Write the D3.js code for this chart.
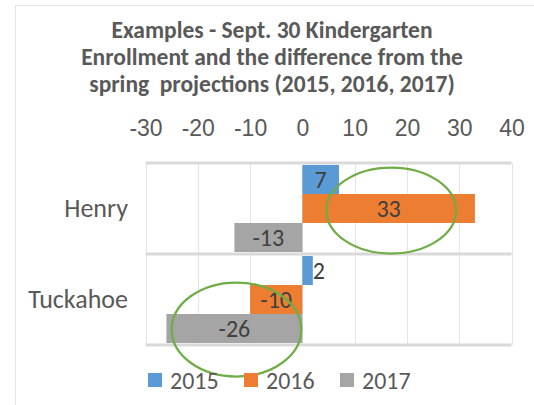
<!DOCTYPE html>
<html>
<head>
<meta charset="utf-8">
<script src="https://cdn.jsdelivr.net/npm/d3@7"></script>
<style>
  body { margin: 0; background: #fff; }
  svg { display: block; font-family: Calibri, Carlito, Lato, "Open Sans", sans-serif; }
</style>
</head>
<body>
<div id="chart"></div>
<script>
'use strict';

// Chart values
const titleLines = [
  'Examples - Sept. 30 Kindergarten',
  'Enrollment and the difference from the',
  'spring  projections (2015, 2016, 2017)'
];
const categories = ['Henry', 'Tuckahoe'];
const seriesNames = ['2015', '2016', '2017'];
const seriesColors = ['#5b9bd5', '#ed7d31', '#a5a5a5'];
const values2015 = [7, 2];
const values2016 = [33, -10];
const values2017 = [-13, -26];
const tickValues = [-30, -20, -10, 0, 10, 20, 30, 40];

// highlight rings: centre value, category, half-width in value units
const rings = [
  { category: 'Henry', series: null, value: 17, rx: 12.4, ry: 43 },
  { category: 'Tuckahoe', series: '2017', value: -12.6, rx: 12.4, ry: 47 }
];

const seriesValues = [values2015, values2016, values2017];
const width = 534, height = 405;

const svg = d3.select('#chart')
  .append('svg')
  .attr('width', width)
  .attr('height', height);

// chart border (cropped at right and bottom)
svg.append('rect')
  .attr('x', 15.5).attr('y', 5.5)
  .attr('width', 540).attr('height', 420)
  .attr('fill', 'none')
  .attr('stroke', '#e3e3e3');

// Title
svg.append('g')
  .selectAll('text')
  .data(titleLines)
  .join('text')
  .attr('x', 272)
  .attr('y', (d, i) => 38 + i * 27.2)
  .attr('text-anchor', 'middle')
  .attr('font-size', 23.5)
  .attr('font-weight', 'bold')
  .attr('fill', '#595959')
  .style('white-space', 'pre')
  .text(d => d);

// Scales
const x = d3.scaleLinear().domain([-30, 40]).range([145.5, 511.5]);
const y = d3.scaleBand().domain(categories).range([163, 345]);
const ys = d3.scaleBand().domain(seriesNames).range([2, y.bandwidth() - 2]);

// Vertical gridlines
svg.append('g')
  .selectAll('line')
  .data(tickValues)
  .join('line')
  .attr('x1', d => Math.round(x(d)) + 0.5)
  .attr('x2', d => Math.round(x(d)) + 0.5)
  .attr('y1', y.range()[0])
  .attr('y2', y.range()[1])
  .attr('stroke', '#e4e4e4');

// Category boundary lines
const bounds = categories.map(c => y(c)).concat([y.range()[1]]);
svg.append('g')
  .selectAll('line')
  .data(bounds)
  .join('line')
  .attr('x1', x.range()[0])
  .attr('x2', x.range()[1])
  .attr('y1', d => d)
  .attr('y2', d => d)
  .attr('stroke', '#d9d9d9')
  .attr('stroke-width', 3);

// Top value axis (plain hyphen for negatives, as in the original)
const axis = svg.append('g')
  .attr('transform', `translate(0,${y.range()[0]})`)
  .call(d3.axisTop(x).tickValues(tickValues).tickFormat(d => String(d)).tickSize(0).tickPadding(27));
axis.select('.domain').remove();
axis.selectAll('text')
  .attr('font-family', null)
  .attr('font-size', 23)
  .attr('fill', '#595959');

// Category labels
svg.append('g')
  .selectAll('text')
  .data(categories)
  .join('text')
  .attr('x', 128)
  .attr('y', d => y(d) + y.bandwidth() / 2)
  .attr('dy', '0.33em')
  .attr('text-anchor', 'end')
  .attr('font-size', 26)
  .attr('fill', '#595959')
  .text(d => d);

// Bars
const barData = [];
categories.forEach((c, ci) => {
  seriesNames.forEach((s, si) => {
    barData.push({ category: c, series: s, color: seriesColors[si], value: seriesValues[si][ci] });
  });
});

const bars = svg.append('g')
  .selectAll('g')
  .data(barData)
  .join('g');

bars.append('rect')
  .attr('x', d => x(Math.min(0, d.value)))
  .attr('y', d => y(d.category) + ys(d.series))
  .attr('width', d => Math.abs(x(d.value) - x(0)))
  .attr('height', ys.bandwidth())
  .attr('fill', d => d.color);

bars.append('text')
  .attr('y', d => y(d.category) + ys(d.series) + ys.bandwidth() / 2)
  .attr('dy', '0.36em')
  .attr('font-size', 24)
  .attr('fill', '#404040')
  .text(d => d.value)
  .each(function(d) {
    const w = this.getComputedTextLength();
    const barW = Math.abs(x(d.value) - x(0));
    const t = d3.select(this);
    if (w > barW) {
      // label does not fit: put it just past the bar end
      t.attr('x', x(d.value) + (d.value >= 0 ? 0 : -w));
    } else {
      t.attr('x', (x(d.value) + x(0)) / 2 - w / 2);
    }
  });

// Highlight rings
svg.append('g')
  .selectAll('ellipse')
  .data(rings)
  .join('ellipse')
  .attr('cx', d => x(d.value))
  .attr('cy', d => d.series
    ? y(d.category) + ys(d.series) + ys.bandwidth() / 2 + 1
    : y(d.category) + y.bandwidth() / 2 + 2)
  .attr('rx', d => x(d.value + d.rx) - x(d.value))
  .attr('ry', d => d.ry)
  .attr('fill', 'none')
  .attr('stroke', '#70ad47')
  .attr('stroke-width', 2.25);

// Legend
const legendX = [148, 244, 340];
const legend = svg.append('g')
  .selectAll('g')
  .data(seriesNames)
  .join('g')
  .attr('transform', (d, i) => `translate(${legendX[i]},373)`);

legend.append('rect')
  .attr('width', 14)
  .attr('height', 14)
  .attr('fill', (d, i) => seriesColors[i]);

legend.append('text')
  .attr('x', 22)
  .attr('y', 15.5)
  .attr('font-size', 24)
  .attr('fill', '#595959')
  .text(d => d);
</script>
</body>
</html>
